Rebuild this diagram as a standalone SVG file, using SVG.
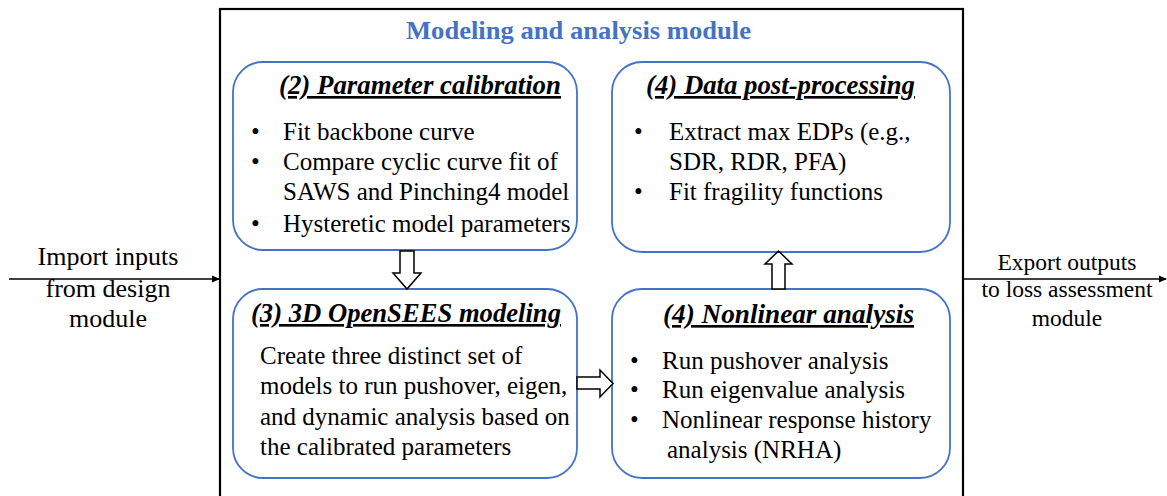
<svg xmlns="http://www.w3.org/2000/svg" width="1167" height="496" viewBox="0 0 1167 496">
<defs>
<style>
text{font-family:'Liberation Serif','Times New Roman',serif;fill:#000;}
.t{font-size:25px;}
.h{font-size:26.5px;font-weight:bold;font-style:italic;text-decoration:underline;}
.title{font-size:26px;font-weight:bold;fill:#4472C4;}
.oi{font-size:26px;}
.oe{font-size:23.5px;}
.box{fill:#fff;stroke:#4472C4;stroke-width:1.8;}
.hol{fill:#fff;stroke:#000;stroke-width:1.5;stroke-linejoin:miter;}
.ln{stroke:#000;stroke-width:1.5;fill:none;}
</style>
<marker id="ah" markerWidth="8" markerHeight="8" refX="7" refY="4" orient="auto" markerUnits="userSpaceOnUse">
<path d="M0,0.5 L8,4 L0,7.5 Z" fill="#000"/>
</marker>
</defs>
<rect width="1167" height="496" fill="#fff"/>
<g id="module">
<rect x="220" y="9" width="743" height="500" fill="none" stroke="#000" stroke-width="2.2"/>
<text class="title" x="406" y="39" textLength="345" lengthAdjust="spacingAndGlyphs">Modeling and analysis module</text>
</g>
<g id="calibration">
<rect class="box" x="233" y="62" width="344" height="188" rx="30"/>
<text class="h" x="279" y="94" textLength="282" lengthAdjust="spacingAndGlyphs">(2) Parameter calibration</text>
<text class="t" x="251" y="140">•</text>
<text class="t" x="283" y="140">Fit backbone curve</text>
<text class="t" x="251" y="170">•</text>
<text class="t" x="283" y="170">Compare cyclic curve fit of</text>
<text class="t" x="283" y="200">SAWS and Pinching4 model</text>
<text class="t" x="251" y="232">•</text>
<text class="t" x="283" y="232">Hysteretic model parameters</text>
</g>
<g id="postprocessing">
<rect class="box" x="612" y="62" width="338" height="190" rx="30"/>
<text class="h" x="646" y="94" textLength="269" lengthAdjust="spacingAndGlyphs">(4) Data post-processing</text>
<text class="t" x="634" y="140">•</text>
<text class="t" x="669" y="140">Extract max EDPs (e.g.,</text>
<text class="t" x="669" y="170">SDR, RDR, PFA)</text>
<text class="t" x="634" y="200">•</text>
<text class="t" x="669" y="200">Fit fragility functions</text>
</g>
<g id="opensees">
<rect class="box" x="233" y="289" width="344" height="189" rx="30"/>
<text class="h" x="251" y="322" textLength="310" lengthAdjust="spacingAndGlyphs">(3) 3D OpenSEES modeling</text>
<text class="t" x="260" y="364">Create three distinct set of</text>
<text class="t" x="260" y="394">models to run pushover, eigen,</text>
<text class="t" x="260" y="425">and dynamic analysis based on</text>
<text class="t" x="260" y="455">the calibrated parameters</text>
</g>
<g id="nonlinear">
<rect class="box" x="612" y="289" width="338" height="189" rx="30"/>
<text class="h" x="663" y="323" textLength="251" lengthAdjust="spacingAndGlyphs">(4) Nonlinear analysis</text>
<text class="t" x="630" y="369">•</text>
<text class="t" x="662" y="369">Run pushover analysis</text>
<text class="t" x="630" y="398">•</text>
<text class="t" x="662" y="398">Run eigenvalue analysis</text>
<text class="t" x="630" y="428">•</text>
<text class="t" x="662" y="428">Nonlinear response history</text>
<text class="t" x="667" y="458">analysis (NRHA)</text>
</g>
<g id="import">
<text class="oi" x="108" y="265" text-anchor="middle">Import inputs</text>
<text class="oi" x="108" y="297" text-anchor="middle">from design</text>
<text class="oi" x="108" y="327" text-anchor="middle">module</text>
</g>
<g id="export">
<text class="oe" x="1067" y="270" text-anchor="middle">Export outputs</text>
<text class="oe" x="1067" y="297" text-anchor="middle">to loss assessment</text>
<text class="oe" x="1067" y="326" text-anchor="middle">module</text>
</g>
<g id="connectors">
<line class="ln" x1="9" y1="279" x2="219" y2="279" marker-end="url(#ah)"/>
<line class="ln" x1="963" y1="279" x2="1166" y2="279" marker-end="url(#ah)"/>
<polygon class="hol" points="400,251 414,251 414,273 421,273 407,289 393,273 400,273"/>
<polygon class="hol" points="772,289 785,289 785,264 792,264 778.5,251 765,264 772,264"/>
<polygon class="hol" points="577,377 600,377 600,370 613,383.5 600,397 600,389 577,389"/>
</g>
</svg>
